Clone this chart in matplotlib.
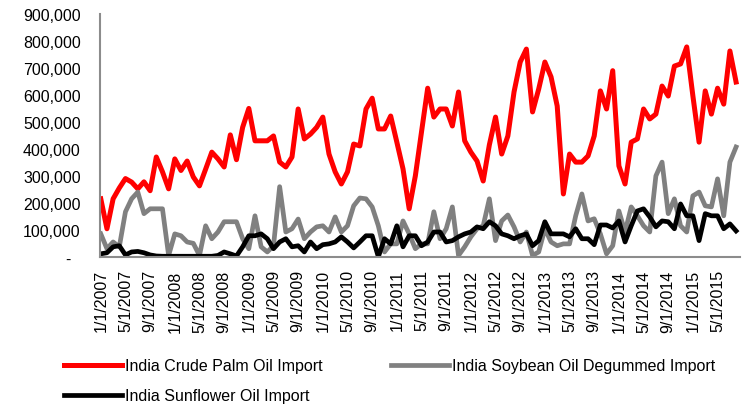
import matplotlib
matplotlib.use("Agg")
import matplotlib.pyplot as plt
import pandas as pd

# monthly imports (thousand tonnes), Jan 2007 - Aug 2015
meses = pd.date_range("2007-01-01", periods=104, freq="MS")

palm = [215, 104, 215, 255, 290, 277, 252, 278, 245, 370, 315, 252, 363, 320, 355, 296,
        263, 325, 388, 363, 333, 452, 360, 480, 550, 430, 430, 430, 448, 351, 333, 370,
        548, 437, 455, 480, 518, 381, 315, 270, 315, 418, 411, 548, 588, 474, 474, 522,
        425, 326, 178, 300, 463, 625, 518, 548, 548, 485, 611, 430, 388, 355, 281, 415,
        518, 381, 448, 611, 722, 770, 537, 622, 722, 667, 559, 233, 381, 351, 351, 374,
        448, 615, 548, 690, 337, 270, 425, 437, 548, 511, 529, 633, 596, 707, 715, 778,
        596, 425, 615, 529, 625, 566, 763, 648]

soja = [85, 30, 55, 37, 167, 215, 240, 160, 178, 178, 178, 5, 85, 78, 55, 50,
        5, 115, 67, 92, 130, 130, 130, 67, 30, 152, 37, 18, 41, 260, 92, 104,
        140, 67, 92, 111, 115, 92, 148, 92, 115, 189, 218, 215, 185, 115, 18, 48,
        48, 133, 85, 30, 48, 48, 167, 67, 104, 185, 5, 37, 74, 104, 115, 215,
        60, 133, 155, 111, 55, 92, 5, 18, 104, 55, 41, 48, 48, 152, 233, 133,
        141, 85, 11, 41, 170, 92, 185, 152, 115, 92, 300, 351, 160, 215, 115, 92,
        226, 240, 189, 185, 289, 152, 351, 407]

girassol = [11, 15, 37, 41, 7, 18, 20, 15, 7, 3, 2, 2, 2, 2, 2, 2,
            2, 2, 2, 5, 18, 11, 3, 37, 78, 78, 85, 67, 30, 55, 67, 37,
            41, 18, 55, 30, 45, 48, 55, 74, 55, 33, 55, 78, 78, 0, 67, 48,
            115, 37, 78, 78, 41, 55, 92, 92, 55, 60, 74, 85, 92, 111, 104, 130,
            115, 85, 78, 67, 78, 85, 41, 60, 130, 85, 85, 85, 74, 104, 67, 67,
            45, 118, 118, 107, 133, 55, 115, 170, 178, 148, 111, 133, 130, 104, 196, 152,
            152, 60, 160, 152, 152, 104, 122, 96]

nomes = ["India Crude Palm Oil Import",
         "India Soybean Oil Degummed Import",
         "India Sunflower Oil Import"]

plt.rcParams["font.family"] = ["Liberation Sans", "DejaVu Sans"]

fig = plt.figure(figsize=(7.42, 4.06), dpi=100)
ax = fig.add_axes([0.135, 0.365, 0.862, 0.598])

x = list(range(len(meses)))
l1, = ax.plot(x, [v * 1000 for v in palm], color="#ff0000", lw=3.6, label=nomes[0])
l2, = ax.plot(x, [v * 1000 for v in soja], color="#808080", lw=3.4, label=nomes[1])
l3, = ax.plot(x, [v * 1000 for v in girassol], color="#000000", lw=3.4, label=nomes[2])

ax.set_xlim(-0.1, 103.6)
ax.set_ylim(0, 900000)

# eixo y
yt = list(range(0, 900001, 100000))
ax.set_yticks(yt)
ax.set_yticklabels(["-  "] + [f"{v:,}" for v in yt[1:]], fontsize=11.5)

# eixo x - a cada 4 meses
pos = x[::4]
ax.set_xticks(pos)
ax.set_xticklabels([f"{meses[i].month}/1/{meses[i].year}" for i in pos],
                   rotation=90, fontsize=11.5)

ax.tick_params(axis="both", length=0)
ax.tick_params(axis="y", pad=14)
ax.tick_params(axis="x", pad=9)

for s in ["top", "right"]:
    ax.spines[s].set_visible(False)
for s in ["left", "bottom"]:
    ax.spines[s].set_color("#8c8c8c")
    ax.spines[s].set_linewidth(1.5)

# legenda embaixo, duas colunas
fig.legend(handles=[l1, l3, l2], loc="upper left", bbox_to_anchor=(0.078, 0.131),
           ncol=2, frameon=False, fontsize=11.5, handlelength=3.6,
           columnspacing=4.3, labelspacing=0.95, handletextpad=0.2, borderaxespad=0)

fig.savefig("out.png", dpi=100)
